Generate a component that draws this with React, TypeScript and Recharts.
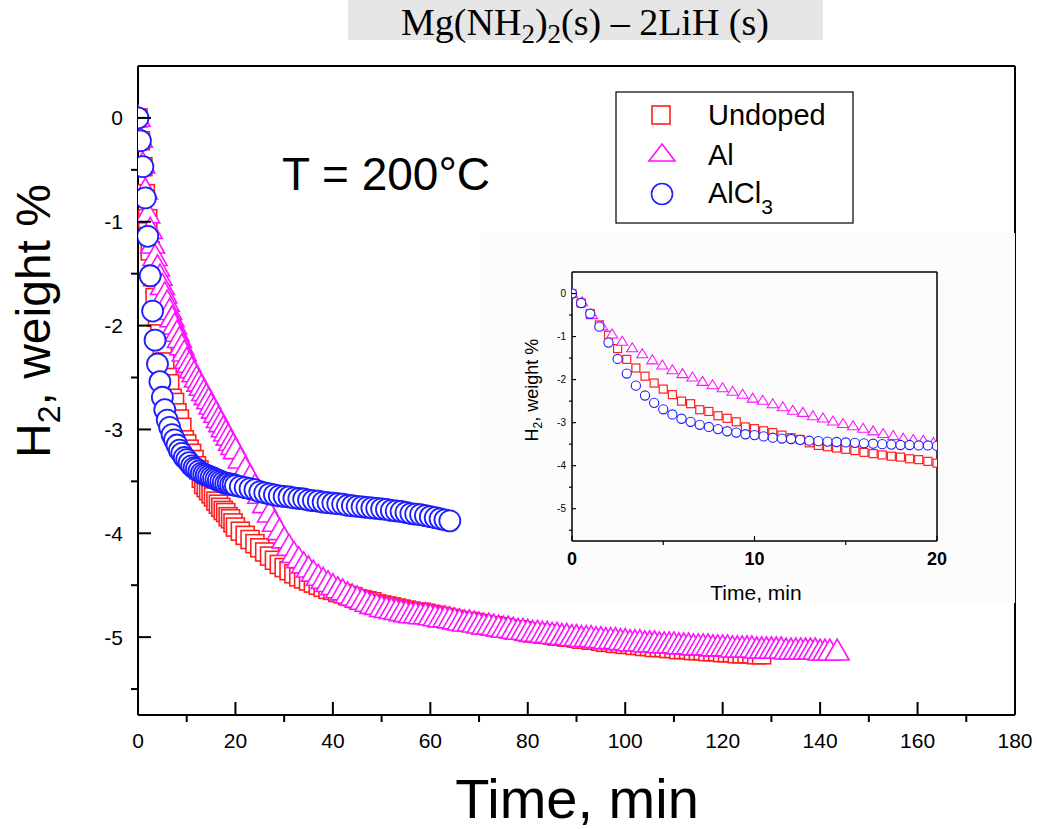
import React from "react";
import { ScatterChart, Scatter, XAxis, YAxis, ReferenceLine } from "recharts";

// H2 release at 200 °C, weight % vs time (min)
const undopedPts: [number, number][] = [
  [0, 0], [0.5, -0.22], [1, -0.47], [1.5, -0.73], [2, -0.97], [2.5, -1.28], [3, -1.53], [3.5, -1.73],
  [4, -1.92], [4.5, -2.08], [5, -2.22], [5.5, -2.35], [6, -2.5], [6.5, -2.56], [7, -2.7], [7.5, -2.74],
  [8, -2.84], [8.5, -2.9], [9, -2.98], [9.5, -3.1], [10, -3.14], [10.5, -3.19], [11, -3.23], [11.5, -3.29],
  [12, -3.35], [12.5, -3.39], [13, -3.47], [13.5, -3.53], [14, -3.56], [14.5, -3.59], [15, -3.62],
  [15.5, -3.65], [16, -3.69], [16.5, -3.72], [17, -3.75], [17.5, -3.78], [18, -3.8], [18.5, -3.84],
  [19, -3.86], [19.5, -3.9], [20, -3.94],
  [21, -3.98], [22, -4.02], [23, -4.06], [24, -4.1], [25, -4.14], [26, -4.18], [27, -4.22], [28, -4.26],
  [29, -4.3], [30, -4.33], [31, -4.36], [32, -4.39], [33, -4.42], [34, -4.44], [35, -4.46], [36, -4.48],
  [37, -4.5], [38, -4.52], [39, -4.54], [40, -4.55], [41, -4.57], [42, -4.58], [43, -4.6], [44, -4.61],
  [45, -4.63], [46, -4.64], [47, -4.65], [48, -4.66], [49, -4.68], [50, -4.69], [51, -4.7], [52, -4.71],
  [53, -4.72], [54, -4.73], [55, -4.74], [56, -4.75], [57, -4.76], [58, -4.76], [59, -4.77], [60, -4.78],
  [61, -4.79], [62, -4.8], [63, -4.81], [64, -4.82], [65, -4.83], [66, -4.84], [67, -4.85], [68, -4.85],
  [69, -4.86], [70, -4.87], [71, -4.88], [72, -4.89], [73, -4.89], [74, -4.9], [75, -4.91], [76, -4.92],
  [77, -4.93], [78, -4.93], [79, -4.94], [80, -4.95], [81, -4.96], [82, -4.96], [83, -4.97], [84, -4.97],
  [85, -4.98], [86, -4.99], [87, -4.99], [88, -5.0], [89, -5.0], [90, -5.01], [91, -5.02], [92, -5.02],
  [93, -5.03], [94, -5.03], [95, -5.04], [96, -5.05], [97, -5.05], [98, -5.06], [99, -5.06], [100, -5.07],
  [101, -5.07], [102, -5.08], [103, -5.08], [104, -5.09], [105, -5.09], [106, -5.1], [107, -5.1],
  [108, -5.1], [109, -5.11], [110, -5.11], [111, -5.12], [112, -5.12], [113, -5.12], [114, -5.13],
  [115, -5.13], [116, -5.13], [117, -5.14], [118, -5.14], [119, -5.14], [120, -5.15], [121, -5.15],
  [122, -5.15], [123, -5.16], [124, -5.16], [125, -5.16], [126, -5.16], [127, -5.17], [128, -5.17],
];

const alPts: [number, number][] = [
  [0, 0], [0.5, -0.2], [1, -0.45], [1.5, -0.7], [2, -0.93], [2.5, -1.08], [3, -1.22], [3.5, -1.34],
  [4, -1.44], [4.5, -1.53], [5, -1.62], [5.5, -1.7], [6, -1.78], [6.5, -1.86], [7, -1.93], [7.5, -2.0],
  [8, -2.07], [8.5, -2.13], [9, -2.2], [9.5, -2.26], [10, -2.33], [10.5, -2.37], [11, -2.42], [11.5, -2.46],
  [12, -2.51], [12.5, -2.55], [13, -2.59], [13.5, -2.64], [14, -2.68], [14.5, -2.72], [15, -2.77],
  [15.5, -2.81], [16, -2.85], [16.5, -2.9], [17, -2.94], [17.5, -2.99], [18, -3.03], [18.5, -3.07],
  [19, -3.12], [19.5, -3.16], [20, -3.2],
  [21, -3.29], [22, -3.38], [23, -3.46], [24, -3.55], [25, -3.63], [26, -3.72], [27, -3.81], [28, -3.9],
  [29, -3.98], [30, -4.06], [31, -4.13], [32, -4.2], [33, -4.25], [34, -4.3], [35, -4.34], [36, -4.38],
  [37, -4.42], [38, -4.45], [39, -4.48], [40, -4.51], [41, -4.54], [42, -4.56], [43, -4.59], [44, -4.61],
  [45, -4.63], [46, -4.65], [47, -4.67], [48, -4.69], [49, -4.7], [50, -4.72], [51, -4.73], [52, -4.74],
  [53, -4.75], [54, -4.76], [55, -4.77], [56, -4.78], [57, -4.78], [58, -4.79], [59, -4.79], [60, -4.8],
  [61, -4.81], [62, -4.82], [63, -4.82], [64, -4.83], [65, -4.84], [66, -4.85], [67, -4.86], [68, -4.86],
  [69, -4.87], [70, -4.88], [71, -4.89], [72, -4.89], [73, -4.9], [74, -4.91], [75, -4.92], [76, -4.92],
  [77, -4.93], [78, -4.94], [79, -4.94], [80, -4.95], [81, -4.96], [82, -4.96], [83, -4.97], [84, -4.97],
  [85, -4.98], [86, -4.98], [87, -4.99], [88, -4.99], [89, -5.0], [90, -5.0], [91, -5.01], [92, -5.01],
  [93, -5.01], [94, -5.02], [95, -5.02], [96, -5.03], [97, -5.03], [98, -5.03], [99, -5.04], [100, -5.04],
  [101, -5.05], [102, -5.05], [103, -5.05], [104, -5.06], [105, -5.06], [106, -5.06], [107, -5.07],
  [108, -5.07], [109, -5.07], [110, -5.07], [111, -5.08], [112, -5.08], [113, -5.08], [114, -5.09],
  [115, -5.09], [116, -5.09], [117, -5.09], [118, -5.1], [119, -5.1], [120, -5.1], [121, -5.1],
  [122, -5.11], [123, -5.11], [124, -5.11], [125, -5.11], [126, -5.11], [127, -5.12], [128, -5.12],
  [129, -5.12], [130, -5.12], [131, -5.12], [132, -5.12], [133, -5.13], [134, -5.13], [135, -5.13],
  [136, -5.13], [137, -5.13], [138, -5.13], [139, -5.13], [140, -5.14], [141, -5.14], [142, -5.14],
  [143.5, -5.14],
];

const alcl3Pts: [number, number][] = [
  [0, 0], [0.5, -0.22], [1, -0.47], [1.5, -0.77], [2, -1.14], [2.5, -1.52], [3, -1.86], [3.5, -2.14],
  [4, -2.37], [4.5, -2.54], [5, -2.69], [5.5, -2.81], [6, -2.91], [6.5, -2.98], [7, -3.05], [7.5, -3.1],
  [8, -3.15], [8.5, -3.2], [9, -3.23], [9.5, -3.27], [10, -3.29], [10.5, -3.32], [11, -3.35], [11.5, -3.37],
  [12, -3.38], [12.5, -3.4], [13, -3.42], [13.5, -3.43], [14, -3.44], [14.5, -3.45], [15, -3.46],
  [15.5, -3.47], [16, -3.48], [16.5, -3.49], [17, -3.5], [17.5, -3.51], [18, -3.52], [18.5, -3.52],
  [19, -3.53], [19.5, -3.53], [20, -3.54],
  [21, -3.55], [22, -3.56], [23, -3.57], [24, -3.58], [25, -3.6], [26, -3.61], [27, -3.62], [28, -3.63],
  [29, -3.64], [30, -3.645], [31, -3.65], [32, -3.66], [33, -3.665], [34, -3.67], [35, -3.68],
  [36, -3.685], [37, -3.69], [38, -3.7], [39, -3.705], [40, -3.71], [41, -3.715], [42, -3.72],
  [43, -3.73], [44, -3.735], [45, -3.74], [46, -3.745], [47, -3.75], [48, -3.755], [49, -3.76],
  [50, -3.765], [51, -3.77], [52, -3.78], [53, -3.785], [54, -3.79], [55, -3.8], [56, -3.81],
  [57, -3.815], [58, -3.82], [59, -3.83], [60, -3.84], [61, -3.85], [62, -3.86], [63, -3.87], [64, -3.88],
];

// the inset's Al trace is read separately (it is drawn slightly differently there)
const alInsetPts: [number, number][] = [
  [0, 0], [0.55, -0.2], [1.1, -0.5], [1.65, -0.76], [2.2, -0.95], [2.75, -1.12], [3.3, -1.27],
  [3.85, -1.41], [4.4, -1.55], [4.95, -1.67], [5.5, -1.78], [6.05, -1.87], [6.6, -1.95], [7.15, -2.05],
  [7.7, -2.13], [8.25, -2.2], [8.8, -2.28], [9.35, -2.35], [9.9, -2.44], [10.45, -2.49], [11, -2.57],
  [11.55, -2.64], [12.1, -2.72], [12.65, -2.77], [13.2, -2.85], [13.75, -2.9], [14.3, -2.97],
  [14.85, -3.03], [15.4, -3.08], [15.95, -3.14], [16.5, -3.2], [17.05, -3.26], [17.6, -3.31],
  [18.15, -3.37], [18.7, -3.4], [19.25, -3.42], [19.8, -3.47],
];

const mainXTicks = [0, 10, 20, 30, 40, 50, 60, 70, 80, 90, 100, 110, 120, 130, 140, 150, 160, 170, 180];
const yTicks = [0, -0.5, -1, -1.5, -2, -2.5, -3, -3.5, -4, -4.5, -5, -5.5];
const insetXTicks = [0, 5, 10, 15, 20];

const RED = "#ff1f1f";
const MAGENTA = "#ff10ff";
const BLUE = "#1e1eff";
const FONT = "'Liberation Sans', Arial, sans-serif";

const toXY = (pts: [number, number][]) => pts.map(([t, v]) => ({ t, v }));
const undopedData = toXY(undopedPts);
const alData = toXY(alPts);
const alcl3Data = toXY(alcl3Pts);
const undopedInset = toXY(undopedPts.filter((p) => p[0] <= 20));
const alInset = toXY(alInsetPts);
const alcl3Inset = toXY(alcl3Pts.filter((p) => p[0] <= 20));

const square = (s: number, color: string, w: number) => (p: any) =>
  <rect x={p.cx - s / 2} y={p.cy - s / 2} width={s} height={s} fill="#fff" stroke={color} strokeWidth={w} />;
const triangle = (s: number, h: number, color: string, w: number) => (p: any) =>
  (
    <polygon
      points={`${p.cx},${p.cy - h * 0.6} ${p.cx + s / 2},${p.cy + h * 0.4} ${p.cx - s / 2},${p.cy + h * 0.4}`}
      fill="#fff"
      stroke={color}
      strokeWidth={w}
    />
  );
const circle = (r: number, color: string, w: number) => (p: any) =>
  <circle cx={p.cx} cy={p.cy} r={r} fill="#fff" stroke={color} strokeWidth={w} />;

// major ticks point inward, minor ticks outward
const makeXTick = (majorEvery: number, big: number, small: number, labelDy: number, style: any) => (props: any) => {
  const { x, y, payload } = props;
  const v = payload.value;
  const major = Math.abs(v % majorEvery) < 1e-9;
  return (
    <g>
      <line x1={x} x2={x} y1={y} y2={major ? y - big : y + small} stroke="#000" strokeWidth={style.lw} />
      {major && (
        <text x={x} y={y + labelDy} textAnchor="middle" fill="#000" style={style.text}>
          {v}
        </text>
      )}
    </g>
  );
};
const makeYTick = (big: number, small: number, labelDx: number, style: any) => (props: any) => {
  const { x, y, payload } = props;
  const v = payload.value;
  const major = Number.isInteger(v);
  return (
    <g>
      <line x1={x} x2={major ? x + big : x - small} y1={y} y2={y} stroke="#000" strokeWidth={style.lw} />
      {major && (
        <text x={x - labelDx} y={y} dy="0.36em" textAnchor="end" fill="#000" style={style.text}>
          {v}
        </text>
      )}
    </g>
  );
};

const MainXTick = makeXTick(20, 13, 7, 33, { lw: 2, text: { fontFamily: FONT, fontSize: 21 } });
const MainYTick = makeYTick(13, 7, 15, { lw: 2, text: { fontFamily: FONT, fontSize: 21 } });
const InsetXTick = makeXTick(10, 5, 4, 24, { lw: 1.2, text: { fontFamily: FONT, fontSize: 18, fontWeight: 700 } });
const InsetYTick = makeYTick(4, 3, 6, { lw: 1.2, text: { fontFamily: FONT, fontSize: 10 } });

const App = () => {
  return (
    <div style={{ position: "absolute", left: 0, top: 0, width: 1037, height: 829, background: "#fff" }}>
      <ScatterChart width={1037} height={829} margin={{ top: 66, right: 22, bottom: 84, left: 78 }}>
        <XAxis
          type="number"
          dataKey="t"
          domain={[0, 180]}
          ticks={mainXTicks}
          interval={0}
          tickSize={0}
          tickMargin={0}
          tickLine={false}
          tick={MainXTick}
          axisLine={{ stroke: "#000", strokeWidth: 2 }}
          allowDataOverflow
        />
        <YAxis
          type="number"
          dataKey="v"
          domain={[-5.75, 0.5]}
          ticks={yTicks}
          interval={0}
          tickSize={0}
          tickMargin={0}
          tickLine={false}
          tick={MainYTick}
          axisLine={{ stroke: "#000", strokeWidth: 2 }}
          allowDataOverflow
        />
        <ReferenceLine y={0.5} stroke="#000" strokeWidth={2} />
        <ReferenceLine x={180} stroke="#000" strokeWidth={2} />
        <Scatter data={undopedData} shape={square(18, RED, 1.6)} isAnimationActive={false} />
        <Scatter data={alData} shape={triangle(24, 21, MAGENTA, 1.6)} isAnimationActive={false} />
        <Scatter data={alcl3Data} shape={circle(10.5, BLUE, 1.8)} isAnimationActive={false} />
      </ScatterChart>

      {/* inset 0-20 min */}
      <div style={{ position: "absolute", left: 480, top: 233, width: 535, height: 370, background: "#fcfcfc" }}>
        <ScatterChart width={535} height={370} margin={{ top: 39, right: 78, bottom: 32, left: 32 }}>
          <XAxis
            type="number"
            dataKey="t"
            domain={[0, 20]}
            ticks={insetXTicks}
            interval={0}
            tickSize={0}
            tickMargin={0}
            tickLine={false}
            tick={InsetXTick}
            axisLine={{ stroke: "#000", strokeWidth: 1.5 }}
            allowDataOverflow
          />
          <YAxis
            type="number"
            dataKey="v"
            domain={[-5.75, 0.5]}
            ticks={yTicks}
            interval={0}
            tickSize={0}
            tickMargin={0}
            tickLine={false}
            tick={InsetYTick}
            axisLine={{ stroke: "#000", strokeWidth: 1.5 }}
            allowDataOverflow
          />
          <ReferenceLine y={0.5} stroke="#000" strokeWidth={1.5} />
          <ReferenceLine x={20} stroke="#000" strokeWidth={1.5} />
          <Scatter data={undopedInset} shape={square(8, RED, 1.2)} isAnimationActive={false} />
          <Scatter data={alInset} shape={triangle(11, 9, MAGENTA, 1.1)} isAnimationActive={false} />
          <Scatter data={alcl3Inset} shape={circle(4.6, BLUE, 1.1)} isAnimationActive={false} />
        </ScatterChart>
      </div>

      {/* annotations */}
      <svg width={1037} height={829} style={{ position: "absolute", left: 0, top: 0, pointerEvents: "none" }}>
        <rect x={348} y={0} width={475} height={40} fill="#e6e6e6" />
        <text x={585} y={35} textAnchor="middle" fill="#000" style={{ fontFamily: "'Liberation Serif', 'Times New Roman', serif", fontSize: 38 }}>
          Mg(NH
          <tspan dy={8} fontSize={27}>2</tspan>
          <tspan dy={-8}>)</tspan>
          <tspan dy={8} fontSize={27}>2</tspan>
          <tspan dy={-8}>(s) – 2LiH (s)</tspan>
        </text>

        <text x={282} y={190} fill="#000" style={{ fontFamily: FONT, fontSize: 46 }}>
          T = 200°C
        </text>

        <rect x={616} y={92} width={237} height={131} fill="#fff" stroke="#000" strokeWidth={1.2} />
        <rect x={652} y={106} width={18} height={18} fill="none" stroke={RED} strokeWidth={1.6} />
        <polygon points="662,144 675,161 649,161" fill="none" stroke={MAGENTA} strokeWidth={1.6} />
        <circle cx={662} cy={194} r={10.5} fill="none" stroke={BLUE} strokeWidth={1.6} />
        <g style={{ fontFamily: FONT, fontSize: 29 }} fill="#000">
          <text x={708} y={125}>Undoped</text>
          <text x={708} y={165}>Al</text>
          <text x={708} y={203}>
            AlCl<tspan dy={11} fontSize={21}>3</tspan>
          </text>
        </g>

        <text
          transform="rotate(-90 50 321)"
          x={50}
          y={321}
          textAnchor="middle"
          fill="#000"
          style={{ fontFamily: FONT, fontSize: 48 }}
        >
          H<tspan dy={10} fontSize={32}>2</tspan>
          <tspan dy={-10}>, weight %</tspan>
        </text>
        <text x={577} y={818} textAnchor="middle" fill="#000" style={{ fontFamily: FONT, fontSize: 56 }}>
          Time, min
        </text>

        <text
          transform="rotate(-90 538 390)"
          x={538}
          y={390}
          textAnchor="middle"
          fill="#000"
          style={{ fontFamily: FONT, fontSize: 18 }}
        >
          H<tspan dy={4} fontSize={12}>2</tspan>
          <tspan dy={-4}>, weight %</tspan>
        </text>
        <text x={756} y={600} textAnchor="middle" fill="#000" style={{ fontFamily: FONT, fontSize: 21 }}>
          Time, min
        </text>
      </svg>
    </div>
  );
};

export default App;
